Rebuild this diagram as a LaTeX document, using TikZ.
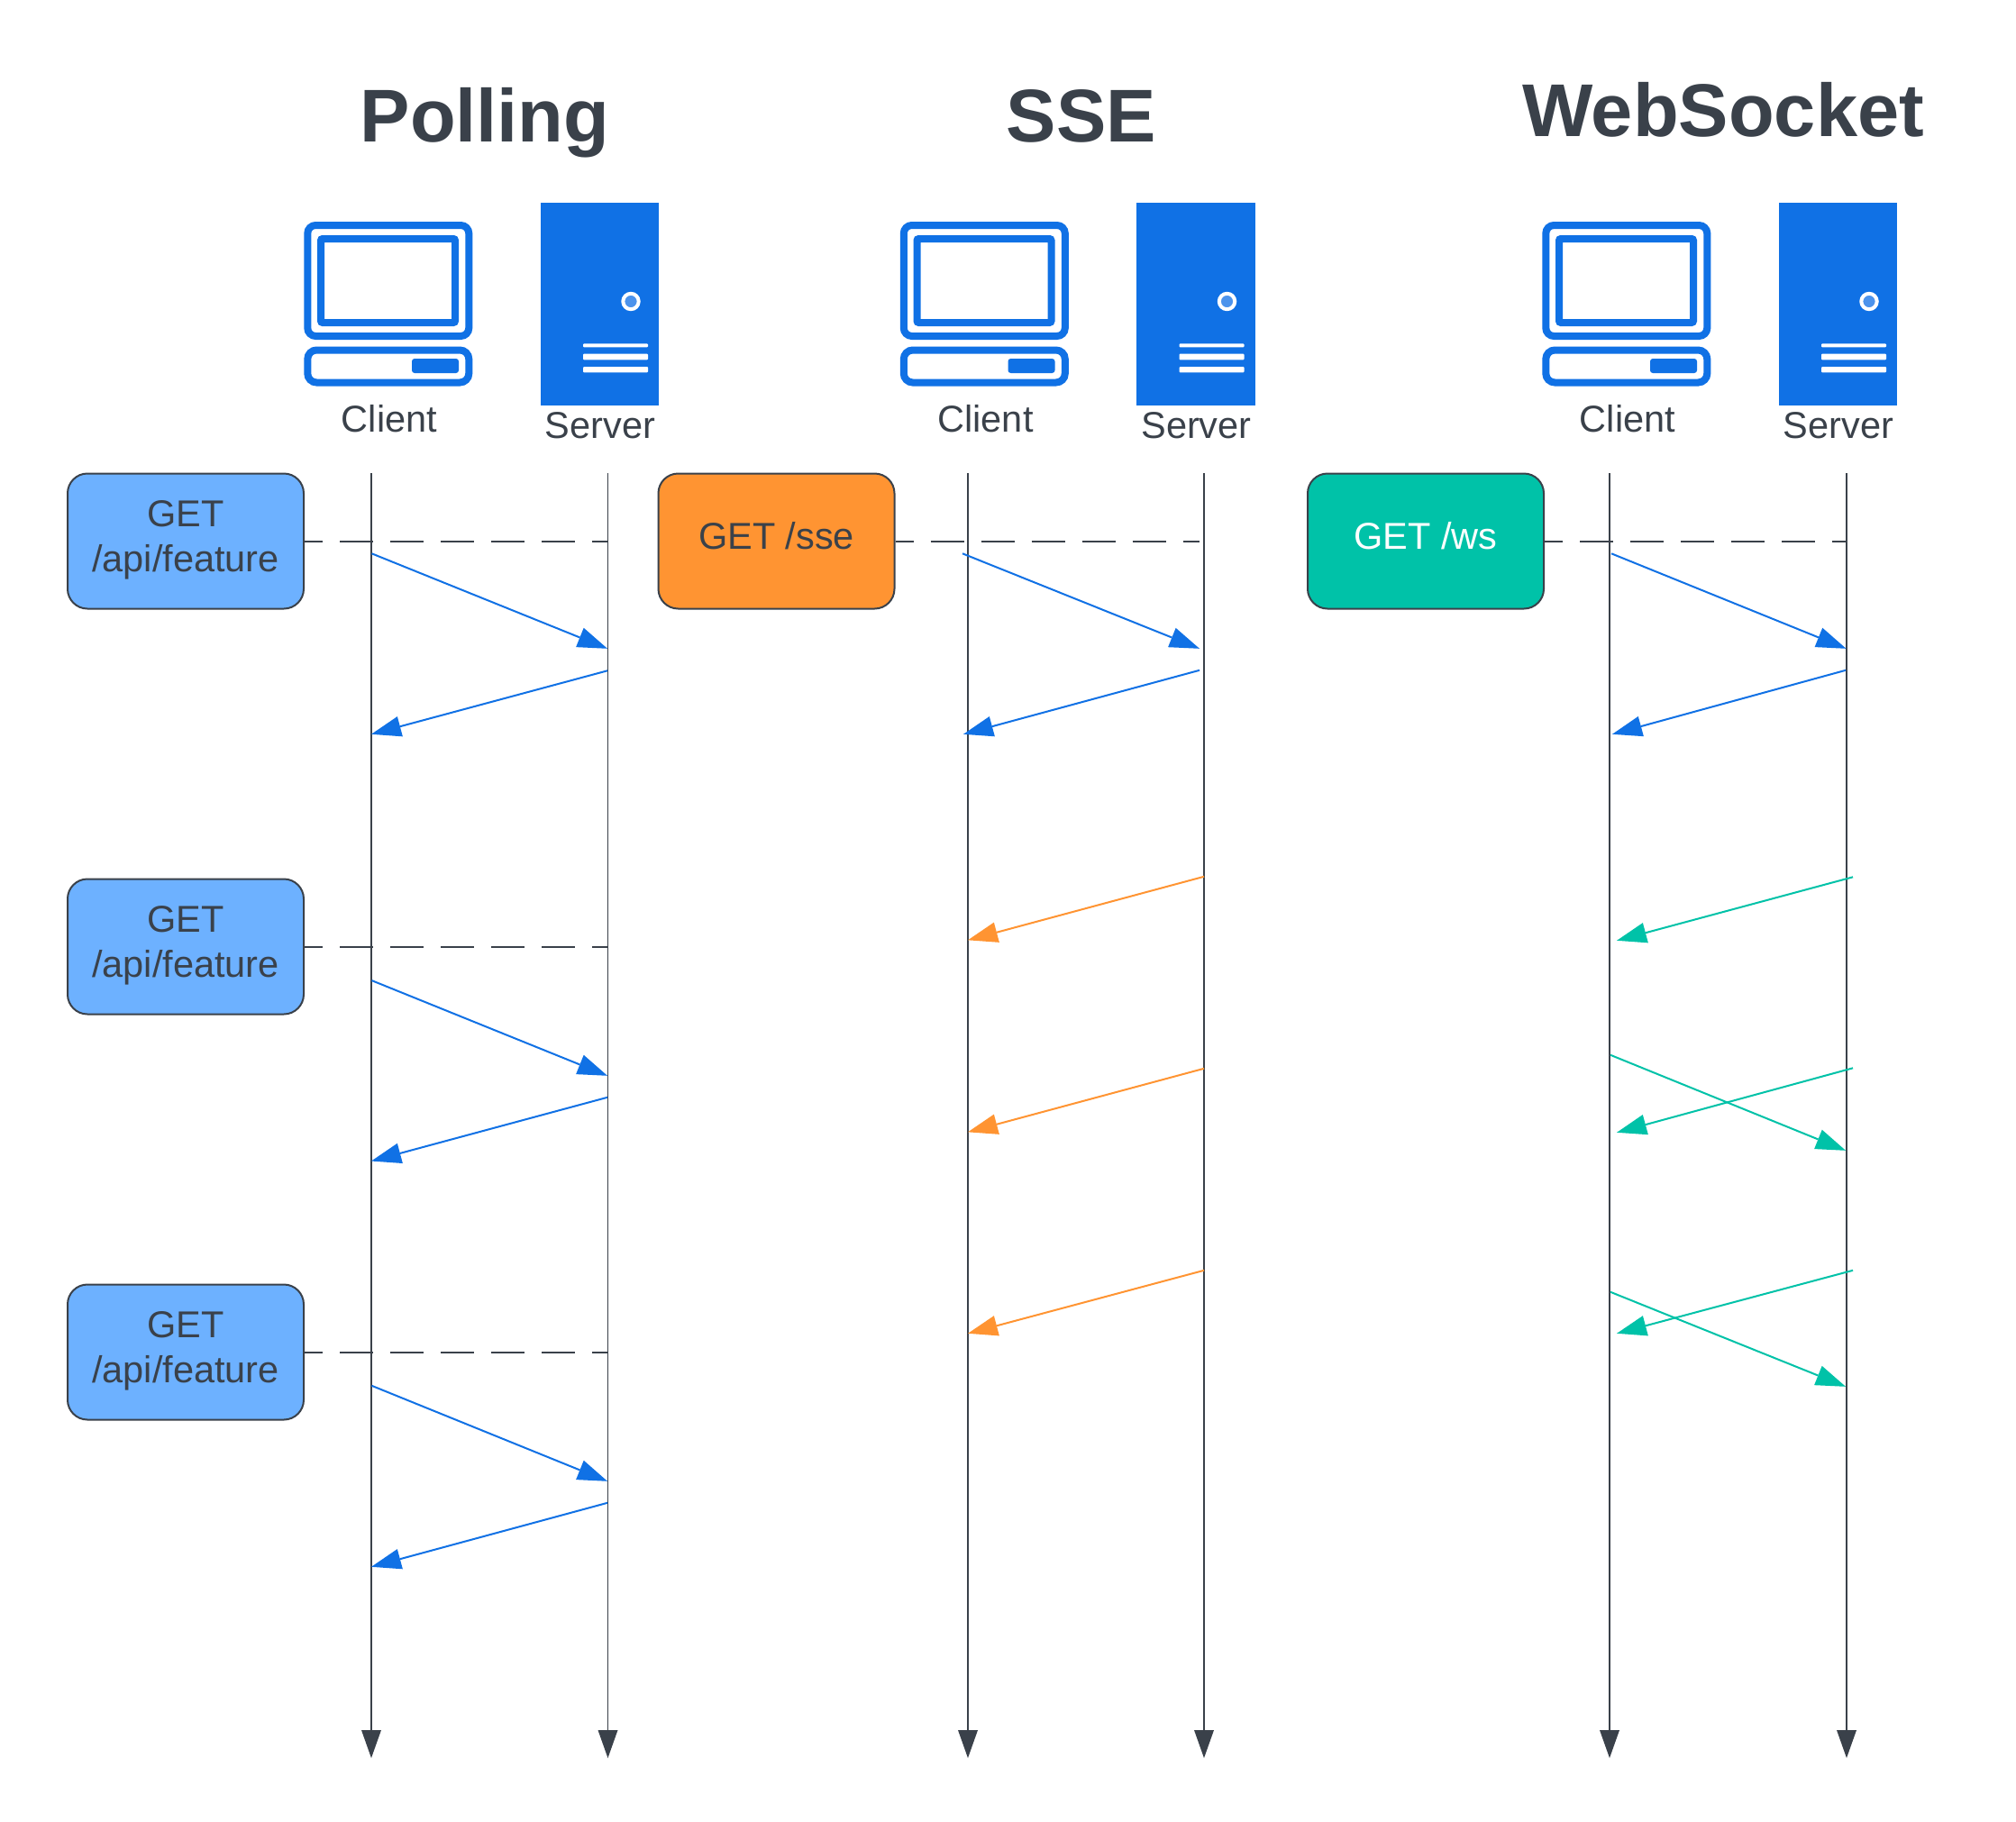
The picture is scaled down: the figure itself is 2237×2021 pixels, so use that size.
\documentclass[tikz,border=0pt]{standalone}
\usepackage{fontspec}
\setmainfont{Liberation Sans}
\usetikzlibrary{arrows.meta}
\definecolor{ink}{HTML}{3A414A}
\definecolor{lucidblue}{HTML}{1071E5}
\definecolor{skyblue}{HTML}{6DB1FF}
\definecolor{lucidorange}{HTML}{FF9432}
\definecolor{lucidteal}{HTML}{00C2A8}
\definecolor{ledblue}{HTML}{4C93EC}
\tikzset{
  headtitle/.style={anchor=base,inner sep=0pt,text=ink,font=\fontsize{83}{90}\selectfont\bfseries},
  devlabel/.style={anchor=base,inner sep=0pt,text=ink,font=\fontsize{41.5}{50}\selectfont},
  reqbox/.style={draw=ink,line width=2pt,rounded corners=22pt,minimum width=262pt,minimum height=150pt,
    inner sep=0pt,align=center,text=ink,font=\fontsize{41.5}{50}\selectfont},
  oneline/.style={text height=30pt,text depth=11.2pt},
  twoline/.style={text height=80pt,text depth=11.2pt},
  lifeline/.style={draw=ink,line width=2pt,-{Triangle[length=31pt,width=22pt,line width=0pt]}},
  dashline/.style={draw=ink,line width=2pt,dash pattern=on 37pt off 19pt,dash phase=17pt},
  msg/.style={line width=2pt,-{Triangle[length=33pt,width=23pt,line width=0pt]}},
  iconline/.style={draw=lucidblue,line width=8pt},
}
\newcommand{\devicepair}[2]{%
  \begin{scope}[shift={(#1,0)}]
    \draw[iconline,rounded corners=9pt] (341.3,250) rectangle (520.3,373);
    \draw[iconline,rounded corners=2pt] (356,265) rectangle (505,358);
    \draw[iconline,rounded corners=10pt] (341.3,388.5) rectangle (520.3,424.5);
    \fill[lucidblue,rounded corners=3pt] (457,398) rectangle (509,414);
    \fill[lucidblue] (599.7,225) rectangle (731,450);
    \draw[white,line width=4pt,fill=ledblue] (700,334.5) circle (8.7);
    \fill[white,rounded corners=1pt] (647,381.3) rectangle (719,385.3);
    \fill[white,rounded corners=1pt] (647,392.7) rectangle (719,399.3);
    \fill[white,rounded corners=1pt] (647,407) rectangle (719,413.3);
    \node[devlabel] (#2client) at (432,479) {Client};
    \node[devlabel] (#2server) at (666,486) {Server};
  \end{scope}}
\begin{document}
\begin{tikzpicture}[x=1pt,y=-1pt]
\useasboundingbox[fill=white] (0,0) rectangle (2237,2021);

% titles
\node[headtitle] (tpoll) at (538,157) {Polling};
\node[headtitle] (tsse) at (1200,157) {SSE};
\node[headtitle] (tws) at (1912,151.7) {WebSocket};

% devices
\devicepair{0}{p}
\devicepair{661.5}{s}
\devicepair{1374}{w}

% lifeline ends
\coordinate (pct) at (412,525); \coordinate (pcb) at (412,1951);
\coordinate (pst) at (674.5,525); \coordinate (psb) at (674.5,1951);
\coordinate (sct) at (1074,525); \coordinate (scb) at (1074,1951);
\coordinate (sst) at (1336,525); \coordinate (ssb) at (1336,1951);
\coordinate (wct) at (1786,525); \coordinate (wcb) at (1786,1951);
\coordinate (wst) at (2049,525); \coordinate (wsb) at (2049,1951);
\draw[lifeline] (pct) -- (pcb);
\draw[lifeline,line width=1.4pt] (pst) -- (psb);
\draw[lifeline] (sct) -- (scb);
\draw[lifeline] (sst) -- (ssb);
\draw[lifeline] (wct) -- (wcb);
\draw[lifeline] (wst) -- (wsb);

% request boxes
\node[reqbox,twoline,fill=skyblue] (b1) at (206,600.5) {GET\\/api/feature};
\node[reqbox,twoline,fill=skyblue] (b2) at (206,1050.5) {GET\\/api/feature};
\node[reqbox,twoline,fill=skyblue] (b3) at (206,1500.5) {GET\\/api/feature};
\node[reqbox,oneline,fill=lucidorange] (bs) at (861.5,600.5) {GET /sse};
\node[reqbox,oneline,fill=lucidteal,text=white] (bw) at (1582,600.5) {GET /ws};

% dashed connectors
\coordinate (d1) at (674.5,600.5);
\coordinate (d2) at (674.5,1050.5);
\coordinate (d3) at (674.5,1500.5);
\coordinate (ds) at (1331,600.5);
\coordinate (dw) at (2050,600.5);
\draw[dashline] (b1.east) -- (d1);
\draw[dashline] (b2.east) -- (d2);
\draw[dashline] (b3.east) -- (d3);
\draw[dashline] (bs.east) -- (ds);
\draw[dashline] (bw.east) -- (dw);

\begin{scope}[shift={(0,0.8)}]
% polling messages
\coordinate (a1) at (412.5,613.5); \coordinate (a2) at (674,719);
\coordinate (a3) at (674,743.5); \coordinate (a4) at (412,814);
\coordinate (a5) at (412.5,1087.3); \coordinate (a6) at (674,1193);
\coordinate (a7) at (674,1217); \coordinate (a8) at (412,1287.7);
\coordinate (a9) at (412.5,1537); \coordinate (a10) at (674,1643);
\coordinate (a11) at (674,1667); \coordinate (a12) at (412,1738);
% SSE messages
\coordinate (s1) at (1068,613.5); \coordinate (s2) at (1331,719);
\coordinate (s3) at (1331,743); \coordinate (s4) at (1069,814);
\coordinate (s5) at (1336,972); \coordinate (s6) at (1074,1042.5);
\coordinate (s7) at (1336,1185); \coordinate (s8) at (1074,1255.5);
\coordinate (s9) at (1336,1409); \coordinate (s10) at (1074,1479);
% WebSocket messages
\coordinate (w1) at (1788,613.5); \coordinate (w2) at (2048.5,719);
\coordinate (w3) at (2048,743); \coordinate (w4) at (1789,814);
\coordinate (w5) at (2056,972.5); \coordinate (w6) at (1794,1043);
\coordinate (w7) at (2056,1184.5); \coordinate (w8) at (1794,1256);
\coordinate (w9) at (2056,1409); \coordinate (w10) at (1794,1479);
\coordinate (w11) at (1787,1170); \coordinate (w12) at (2048,1276);
\coordinate (w13) at (1787,1433); \coordinate (w14) at (2048,1538);
\end{scope}
\draw[msg,lucidblue] (a1) -- (a2);
\draw[msg,lucidblue] (a3) -- (a4);
\draw[msg,lucidblue] (a5) -- (a6);
\draw[msg,lucidblue] (a7) -- (a8);
\draw[msg,lucidblue] (a9) -- (a10);
\draw[msg,lucidblue] (a11) -- (a12);
\draw[msg,lucidblue] (s1) -- (s2);
\draw[msg,lucidblue] (s3) -- (s4);
\draw[msg,lucidorange] (s5) -- (s6);
\draw[msg,lucidorange] (s7) -- (s8);
\draw[msg,lucidorange] (s9) -- (s10);
\draw[msg,lucidblue] (w1) -- (w2);
\draw[msg,lucidblue] (w3) -- (w4);
\draw[msg,lucidteal] (w5) -- (w6);
\draw[msg,lucidteal] (w7) -- (w8);
\draw[msg,lucidteal] (w9) -- (w10);
\draw[msg,lucidteal] (w11) -- (w12);
\draw[msg,lucidteal] (w13) -- (w14);
\end{tikzpicture}
\end{document}
